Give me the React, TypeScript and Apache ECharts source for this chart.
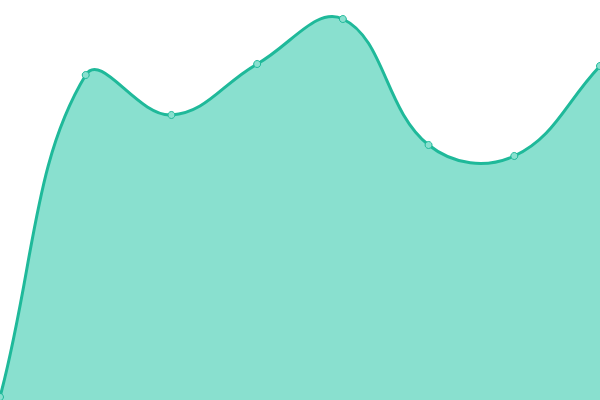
import React, { useEffect, useRef } from 'react';
import * as echarts from 'echarts';

const categories = ['A', 'B', 'C', 'D', 'E', 'F', 'G', 'H'];
const values = [3, 325, 285, 336, 381, 255, 244, 334];

const LINE_COLOR = '#1fb99a';
const AREA_COLOR = '#89e0cf';
const TENSION = 0.4;

// 样条控制点：端点沿弦方向，不限制超出极值
function controlPoints(pts: number[][], i: number) {
  const cur = pts[i];
  const prev = pts[i - 1] || cur;
  const next = pts[i + 1] || cur;
  const d01 = Math.hypot(cur[0] - prev[0], cur[1] - prev[1]);
  const d12 = Math.hypot(next[0] - cur[0], next[1] - cur[1]);
  const sum = d01 + d12;
  const fa = sum ? (TENSION * d01) / sum : 0;
  const fb = sum ? (TENSION * d12) / sum : 0;
  return {
    before: [cur[0] - fa * (next[0] - prev[0]), cur[1] - fa * (next[1] - prev[1])],
    after: [cur[0] + fb * (next[0] - prev[0]), cur[1] + fb * (next[1] - prev[1])]
  };
}

function buildPath(pts: number[][]) {
  const cps = pts.map((_, i) => controlPoints(pts, i));
  let d = `M${pts[0][0]},${pts[0][1]}`;
  for (let i = 1; i < pts.length; i++) {
    const a = cps[i - 1].after;
    const b = cps[i].before;
    d += ` C${a[0]},${a[1]} ${b[0]},${b[1]} ${pts[i][0]},${pts[i][1]}`;
  }
  return d;
}

const App: React.FC = () => {
  const chartRef = useRef<HTMLDivElement>(null);

  useEffect(() => {
    if (!chartRef.current) return;
    const chart = echarts.init(chartRef.current, undefined, { renderer: 'svg' });
    chart.setOption({
      animation: false,
      grid: { left: 0, right: 0, top: 0, bottom: 0 },
      xAxis: {
        type: 'category',
        data: categories,
        boundaryGap: false,
        show: false
      },
      yAxis: {
        type: 'value',
        min: 0,
        max: 400,
        show: false
      },
      series: [
        {
          type: 'custom',
          data: [0],
          silent: true,
          renderItem: (params: any, api: any) => {
            const pts = values.map((v, i) => api.coord([i, v]));
            const base = api.coord([0, 0])[1];
            const line = buildPath(pts);
            const last = pts[pts.length - 1];
            const area = `${line} L${last[0]},${base} L${pts[0][0]},${base} Z`;
            return {
              type: 'group',
              children: [
                { type: 'path', shape: { pathData: area }, style: { fill: AREA_COLOR, stroke: 'none' } },
                { type: 'path', shape: { pathData: line }, style: { fill: 'none', stroke: LINE_COLOR, lineWidth: 3 } }
              ]
            };
          }
        },
        {
          type: 'line',
          data: values,
          symbol: 'circle',
          symbolSize: 7,
          itemStyle: { color: AREA_COLOR, borderColor: LINE_COLOR, borderWidth: 1 },
          lineStyle: { width: 0, opacity: 0 }
        }
      ]
    });
    return () => chart.dispose();
  }, []);

  return (
    <div
      ref={chartRef}
      style={{ position: 'fixed', left: 0, top: 0, width: 600, height: 400, background: '#fff' }}
    />
  );
};

export default App;
